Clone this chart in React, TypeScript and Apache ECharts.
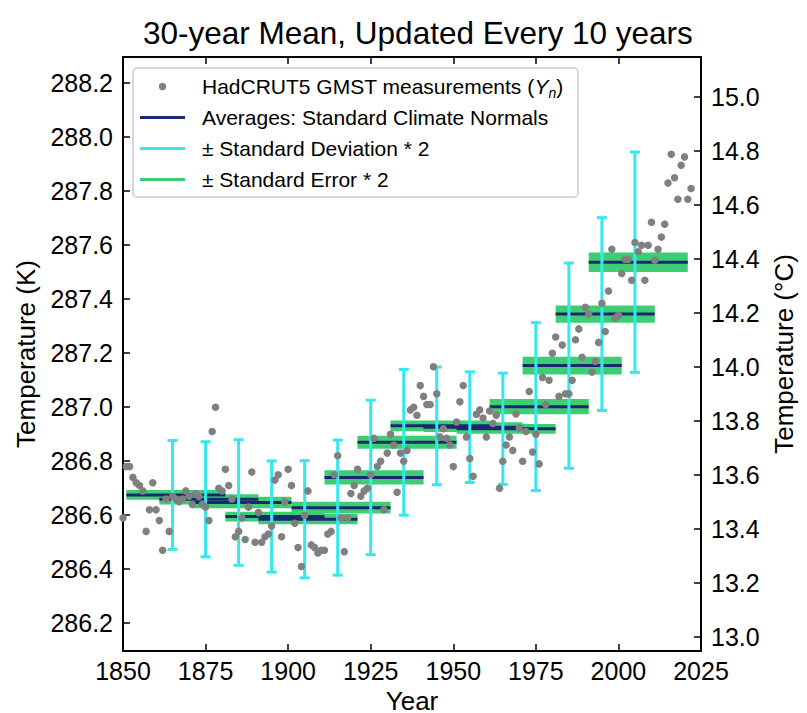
import React, { useEffect, useRef } from "react";
import * as echarts from "echarts";

const FONT = "'Liberation Sans', Arial, Helvetica, sans-serif";

// HadCRUT5 GMST annual values (K), one per year starting at FIRST_YEAR
const FIRST_YEAR = 1850;
const tempK = [
  // 1850s
  286.59, 286.78, 286.78, 286.74, 286.72, 286.71, 286.69, 286.54, 286.62, 286.72,
  // 1860s
  286.62, 286.58, 286.47, 286.66, 286.54, 286.67, 286.66, 286.65, 286.66, 286.69,
  // 1870s
  286.67, 286.64, 286.68, 286.67, 286.64, 286.63, 286.58, 286.91, 287.0, 286.7,
  // 1880s
  286.69, 286.77, 286.71, 286.66, 286.52, 286.54, 286.59, 286.51, 286.63, 286.76,
  // 1890s
  286.5, 286.61, 286.5, 286.52, 286.53, 286.56, 286.73, 286.75, 286.52, 286.65,
  // 1900s
  286.77, 286.71, 286.57, 286.48, 286.41, 286.6, 286.69, 286.49, 286.48, 286.46,
  // 1910s
  286.47, 286.47, 286.53, 286.54, 286.75, 286.82, 286.59, 286.465, 286.59, 286.68,
  // 1920s
  286.71, 286.77, 286.67, 286.69, 286.7, 286.75, 286.885, 286.78, 286.8, 286.62,
  // 1930s
  286.83, 286.9, 286.86, 286.685, 286.83, 286.8, 286.84, 286.99, 287.0, 286.97,
  // 1940s
  287.08, 287.04, 287.01, 287.01, 287.15, 287.05, 286.89, 286.92, 286.885, 286.86,
  // 1950s
  286.78, 286.945, 287.02, 287.08, 286.89, 286.81, 286.744, 286.974, 286.99, 286.96,
  // 1960s
  286.89, 286.986, 286.94, 286.97, 286.7, 286.8, 286.86, 286.89, 286.84, 286.975,
  // 1970s
  286.923, 286.8, 286.91, 287.058, 286.834, 286.9, 286.79, 287.11, 287.01, 287.1,
  // 1980s
  287.2, 287.26, 287.04, 287.23, 287.05, 287.05, 287.1, 287.25, 287.29, 287.185,
  // 1990s
  287.37, 287.345, 287.13, 287.17, 287.24, 287.385, 287.28, 287.43, 287.585, 287.33,
  // 2000s
  287.34, 287.495, 287.548, 287.548, 287.47, 287.61, 287.576, 287.6, 287.47, 287.6,
  // 2010s
  287.685, 287.544, 287.585, 287.63, 287.678, 287.83, 287.937, 287.85, 287.77, 287.896,
  // 2020s
  287.927, 287.77, 287.81,
];

// 30-year climate normals (start year, end year, mean K)
const normalStarts = [1851, 1861, 1871, 1881, 1891, 1901, 1911, 1921, 1931, 1941, 1951, 1961, 1971, 1981, 1991];
const normalEnds = [1881, 1891, 1901, 1911, 1921, 1931, 1941, 1951, 1961, 1971, 1981, 1991, 2001, 2011, 2021];
const normalMeans = [286.675, 286.659, 286.647, 286.595, 286.585, 286.628, 286.74, 286.87, 286.931, 286.926, 286.92, 287.002, 287.154, 287.345, 287.537];
// error-bar positions (years) and half-widths (K)
const errorBarYears = [1865, 1875, 1885, 1895, 1905, 1915, 1925, 1935, 1945, 1955, 1965, 1975, 1985, 1995, 2005];
const sd2 = [0.2015, 0.213, 0.2325, 0.206, 0.217, 0.25, 0.286, 0.27, 0.218, 0.205, 0.206, 0.311, 0.38, 0.357, 0.408];
const se2 = [0.018, 0.019, 0.021, 0.018, 0.019, 0.022, 0.026, 0.024, 0.02, 0.018, 0.018, 0.028, 0.033, 0.032, 0.036];

const kTicks = [286.2, 286.4, 286.6, 286.8, 287.0, 287.2, 287.4, 287.6, 287.8, 288.0, 288.2];
const cTicks = [13.0, 13.2, 13.4, 13.6, 13.8, 14.0, 14.2, 14.4, 14.6, 14.8, 15.0];
const KELVIN_OFFSET = 273.15;
const Y_MIN = 286.097;
const Y_MAX = 288.297;

const GRAY = "#808080";
const NAVY = "#1a2870";
const CYAN = "#35e8ee";
const GREEN = "#3dce73";

export default function App() {
  const ref = useRef<HTMLDivElement>(null);

  useEffect(() => {
    if (!ref.current) return;
    const chart = echarts.init(ref.current, undefined, { renderer: "svg" });

    const axisLine = { show: true, onZero: false, lineStyle: { color: "#000", width: 2 } };
    const axisTick = { show: true, inside: true, length: 7, lineStyle: { color: "#000", width: 1.5 } };
    const labelStyle = { color: "#000", fontSize: 25, fontFamily: FONT };
    const nameStyle = { color: "#000", fontSize: 26, fontFamily: FONT };

    const scatterData = tempK.map((v, i) => [FIRST_YEAR + i, v]);

    const option: any = {
      animation: false,
      backgroundColor: "#fff",
      title: {
        text: "30-year Mean, Updated Every 10 years",
        left: 138,
        top: 12,
        textStyle: { color: "#000", fontSize: 31.5, fontWeight: "normal", fontFamily: FONT },
      },
      grid: { left: 123, right: 106, top: 57, bottom: 62, outerBoundsMode: "none", containLabel: false },
      xAxis: [
        {
          type: "value",
          min: 1850,
          max: 2025,
          interval: 25,
          position: "bottom",
          axisLine,
          axisTick,
          splitLine: { show: false },
          axisLabel: { ...labelStyle, margin: 7, formatter: (v: number) => String(v) },
          name: "Year",
          nameLocation: "middle",
          nameGap: 38,
          nameTextStyle: { ...nameStyle, lineHeight: 22 },
        },
        {
          type: "value",
          min: 1850,
          max: 2025,
          interval: 25,
          position: "top",
          axisLine,
          axisTick,
          splitLine: { show: false },
          axisLabel: { show: false },
        },
      ],
      yAxis: [
        {
          type: "value",
          min: Y_MIN,
          max: Y_MAX,
          position: "left",
          axisLine,
          axisTick: { ...axisTick, customValues: kTicks },
          splitLine: { show: false },
          axisLabel: {
            ...labelStyle,
            margin: 10,
            customValues: kTicks,
            formatter: (v: number) => v.toFixed(1),
          },
          name: "Temperature (K)",
          nameLocation: "middle",
          nameRotate: 90,
          nameGap: 84,
          nameTextStyle: nameStyle,
        },
        {
          type: "value",
          min: Y_MIN - KELVIN_OFFSET,
          max: Y_MAX - KELVIN_OFFSET,
          position: "right",
          axisLine,
          axisTick: { ...axisTick, customValues: cTicks },
          splitLine: { show: false },
          axisLabel: {
            ...labelStyle,
            margin: 10,
            customValues: cTicks,
            formatter: (v: number) => v.toFixed(1),
          },
          name: "Temperature (°C)",
          nameLocation: "middle",
          nameRotate: 90,
          nameGap: 69,
          nameTextStyle: nameStyle,
        },
      ],
      series: [
        {
          type: "custom",
          name: "± Standard Error * 2",
          xAxisIndex: 0,
          yAxisIndex: 0,
          z: 1,
          renderItem: (params: any, api: any) => {
            const s = api.value(0);
            const e = api.value(1);
            const lo = api.value(2);
            const hi = api.value(3);
            const p1 = api.coord([s, hi]);
            const p2 = api.coord([e, lo]);
            return {
              type: "rect",
              shape: { x: p1[0], y: p1[1], width: p2[0] - p1[0], height: p2[1] - p1[1] },
              style: { fill: GREEN },
            };
          },
          data: normalStarts.map((s, i) => [s, normalEnds[i], normalMeans[i] - se2[i], normalMeans[i] + se2[i]]),
        },
        {
          type: "custom",
          name: "Averages: Standard Climate Normals",
          xAxisIndex: 0,
          yAxisIndex: 0,
          z: 2,
          renderItem: (params: any, api: any) => {
            const p1 = api.coord([api.value(0), api.value(2)]);
            const p2 = api.coord([api.value(1), api.value(2)]);
            return {
              type: "line",
              shape: { x1: p1[0], y1: p1[1], x2: p2[0], y2: p2[1] },
              style: { stroke: NAVY, lineWidth: 3 },
            };
          },
          data: normalStarts.map((s, i) => [s, normalEnds[i], normalMeans[i]]),
        },
        {
          type: "custom",
          name: "± Standard Deviation * 2",
          xAxisIndex: 0,
          yAxisIndex: 0,
          z: 3,
          renderItem: (params: any, api: any) => {
            const x = api.value(0);
            const top = api.coord([x, api.value(2)]);
            const bot = api.coord([x, api.value(1)]);
            const cw = 5;
            const st = { stroke: CYAN, lineWidth: 3 };
            return {
              type: "group",
              children: [
                { type: "line", shape: { x1: top[0], y1: top[1], x2: bot[0], y2: bot[1] }, style: st },
                { type: "line", shape: { x1: top[0] - cw, y1: top[1], x2: top[0] + cw, y2: top[1] }, style: st },
                { type: "line", shape: { x1: bot[0] - cw, y1: bot[1], x2: bot[0] + cw, y2: bot[1] }, style: st },
              ],
            };
          },
          data: errorBarYears.map((x, i) => [x, normalMeans[i] - sd2[i], normalMeans[i] + sd2[i]]),
        },
        {
          type: "scatter",
          name: "HadCRUT5 GMST measurements",
          xAxisIndex: 0,
          yAxisIndex: 0,
          z: 4,
          symbol: "circle",
          symbolSize: 7.5,
          itemStyle: { color: GRAY, opacity: 1 },
          data: scatterData,
        },
      ],
      graphic: [
        {
          type: "group",
          z: 100,
          children: [
            {
              type: "rect",
              shape: { x: 133, y: 68, width: 445, height: 129, r: 4 },
              style: { fill: "rgba(255,255,255,0.85)", stroke: "#cccccc", lineWidth: 1.5 },
            },
            { type: "circle", shape: { cx: 162.5, cy: 86.5, r: 3.75 }, style: { fill: GRAY } },
            { type: "line", shape: { x1: 140, y1: 117.5, x2: 185, y2: 117.5 }, style: { stroke: NAVY, lineWidth: 3 } },
            { type: "line", shape: { x1: 140, y1: 148.5, x2: 185, y2: 148.5 }, style: { stroke: CYAN, lineWidth: 3 } },
            { type: "line", shape: { x1: 140, y1: 179.5, x2: 185, y2: 179.5 }, style: { stroke: GREEN, lineWidth: 3 } },
            {
              type: "text",
              x: 202,
              y: 86.5,
              style: {
                text: "HadCRUT5 GMST measurements ({y|Y}{n|n})",
                fontSize: 21,
                fontFamily: FONT,
                fill: "#000",
                verticalAlign: "middle",
                rich: {
                  y: { fontSize: 21, fontStyle: "italic", fontFamily: FONT, lineHeight: 26 },
                  n: { fontSize: 14, fontStyle: "italic", fontFamily: FONT, lineHeight: 15, verticalAlign: "bottom" },
                },
              },
            },
            {
              type: "text",
              x: 202,
              y: 117.5,
              style: { text: "Averages: Standard Climate Normals", fontSize: 21, fontFamily: FONT, fill: "#000", verticalAlign: "middle" },
            },
            {
              type: "text",
              x: 202,
              y: 148.5,
              style: { text: "± Standard Deviation * 2", fontSize: 21, fontFamily: FONT, fill: "#000", verticalAlign: "middle" },
            },
            {
              type: "text",
              x: 202,
              y: 179.5,
              style: { text: "± Standard Error * 2", fontSize: 21, fontFamily: FONT, fill: "#000", verticalAlign: "middle" },
            },
          ],
        },
      ],
    };

    chart.setOption(option);
    return () => chart.dispose();
  }, []);

  return (
    <div
      ref={ref}
      style={{ position: "absolute", left: 0, top: 0, width: 807, height: 713, background: "#fff" }}
    />
  );
}
